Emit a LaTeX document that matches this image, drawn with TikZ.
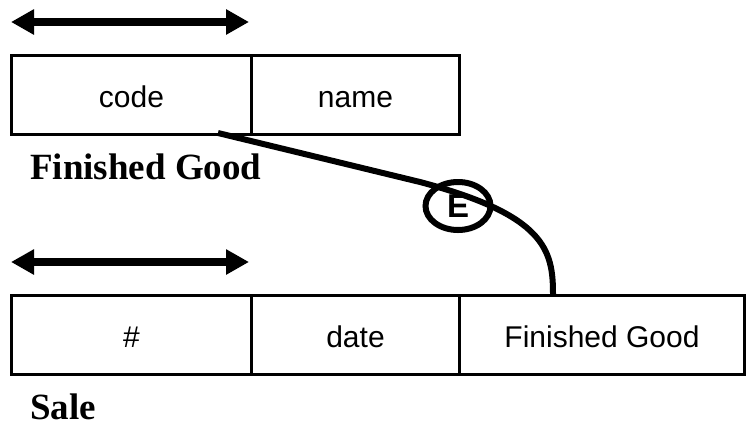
\documentclass[tikz,border=0pt]{standalone}
\usepackage{fontspec}
\setmainfont{Liberation Serif}
\newfontfamily\cellfont{Liberation Sans}
\usetikzlibrary{arrows.meta,shapes.geometric}
\tikzset{
  cell/.style={draw, line width=3pt, anchor=north west, minimum height=79pt, inner sep=0pt,
    text height=25pt, text depth=0pt, font=\cellfont\fontsize{30}{36}\selectfont},
  lbl/.style={anchor=base west, inner sep=0pt, font=\bfseries\fontsize{37}{42}\selectfont},
  dbl/.style={line width=8pt, {Triangle[length=23pt,width=24pt]}-{Triangle[length=23pt,width=24pt]}},
  conn/.style={line width=6pt},
  ent/.style={draw, ellipse, line width=6pt, minimum width=65pt, minimum height=48pt, inner sep=0pt,
    text height=23pt, text depth=0pt, font=\cellfont\bfseries\fontsize{33}{38}\selectfont}
}
\begin{document}
\begin{tikzpicture}[x=1pt,y=-1pt]
\useasboundingbox (0,0) rectangle (749,432);
% top table
\coordinate (a1l) at (11,22);
\coordinate (a1r) at (249,22);
\draw[dbl] (a1l) -- (a1r);
\node[cell, minimum width=240pt] (code) at (10,54) {code};
\node[cell, minimum width=208pt] (name) at (250,54) {name};
\node[lbl] (fglbl) at (30,179) {Finished Good};
% bottom table
\coordinate (a2l) at (11,262);
\coordinate (a2r) at (249,262);
\draw[dbl] (a2l) -- (a2r);
\node[cell, minimum width=240pt] (num) at (10,294) {\#};
\node[cell, minimum width=208pt] (date) at (250,294) {date};
\node[cell, minimum width=285pt] (fg) at (458,294) {Finished Good};
\node[lbl] (salelbl) at (30,419) {Sale};
% connector
\coordinate (s) at (218,133);
\coordinate (bend) at (420,182);
\coordinate (t) at (553,294);
\draw[conn] (s) -- (bend) .. controls (545,215) and (553,250) .. (t);
\node[ent] (E) at (458,206) {E};
\end{tikzpicture}
\end{document}
